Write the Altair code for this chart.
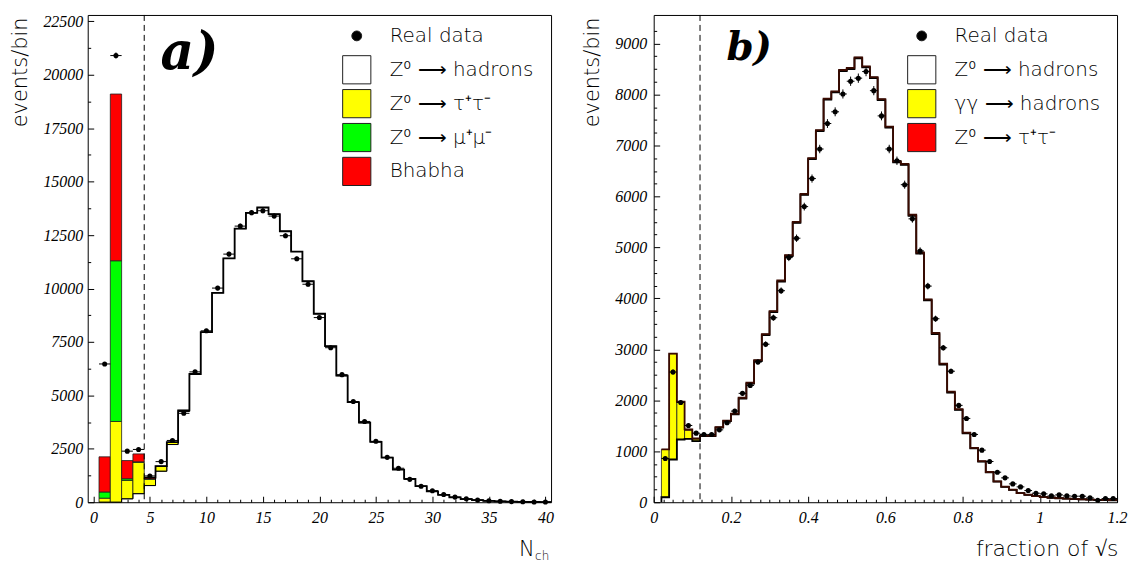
import altair as alt
import pandas as pd

# ---------------- panel a) : charged multiplicity ----------------
a_nch = list(range(1, 41))
a_data = [6470, 20900, 2390, 2470, 1230, 1900, 2890, 4160, 6100, 8020,
          10020, 11610, 12920, 13550, 13640, 13390, 12470, 11390, 10200, 8640,
          7230, 5970, 4710, 3780, 2850, 2100, 1590, 1070, 750, 540,
          360, 240, 160, 105, 70, 45, 30, 20, 12, 8]
a_had = [0, 0, 160, 400, 780, 1450, 2700, 4250, 5980, 7950,
         9800, 11410, 12800, 13540, 13790, 13480, 12680, 11730, 10340, 8820,
         7300, 5920, 4680, 3720, 2820, 2090, 1530, 1090, 750, 510,
         345, 230, 150, 100, 65, 42, 27, 17, 11, 7]
a_tau = [190, 3780, 860, 1470, 300, 240, 110, 50, 20, 10] + [0] * 30
a_mu = [290, 7520, 80, 20, 10] + [0] * 35
a_bha = [1645, 7800, 850, 370, 60] + [0] * 35
a_cut = [4.5]
a_labels = ["Real data", "Z⁰ ⟶ hadrons", "Z⁰ ⟶ τ⁺τ⁻", "Z⁰ ⟶ μ⁺μ⁻", "Bhabha"]
a_colors = ["black", "white", "#ffff00", "#00ff00", "#ff0000"]
a_xmajor = [0, 5, 10, 15, 20, 25, 30, 35, 40]
a_xminor = [v for v in range(0, 41) if v % 5]
a_ymajor = [0, 2500, 5000, 7500, 10000, 12500, 15000, 17500, 20000, 22500]
a_yminor = [1250, 3750, 6250, 8750, 11250, 13750, 16250, 18750, 21250]

# ---------------- panel b) : visible energy ----------------
b_lo = [0.02, 0.04, 0.06, 0.08, 0.10, 0.12, 0.14, 0.16, 0.18, 0.20,
        0.22, 0.24, 0.26, 0.28, 0.30, 0.32, 0.34, 0.36, 0.38, 0.40,
        0.42, 0.44, 0.46, 0.48, 0.50, 0.52, 0.54, 0.56, 0.58, 0.60,
        0.62, 0.64, 0.66, 0.68, 0.70, 0.72, 0.74, 0.76, 0.78, 0.80,
        0.82, 0.84, 0.86, 0.88, 0.90, 0.92, 0.94, 0.96, 0.98, 1.00,
        1.02, 1.04, 1.06, 1.08, 1.10, 1.12, 1.14, 1.16, 1.18]
b_data = [858, 2554, 1958, 1506, 1355, 1330, 1330, 1420, 1558, 1788,
          2136, 2292, 2750, 3100, 3620, 4150, 4800, 5180, 5800, 6350,
          6930, 7430, 7660, 8010, 8260, 8320, 8450, 8075, 7580, 6930,
          6700, 6230, 5560, 4930, 4240, 3600, 3030, 2570, 1900, 1644,
          1330, 1022, 799, 589, 478, 360, 301, 229, 177, 164,
          124, 144, 124, 118, 118, 85, 39, 72, 72]
b_had = [98, 838, 1231, 1244, 1198, 1295, 1295, 1465, 1590, 1725,
         2035, 2325, 2770, 3280, 3730, 4330, 4830, 5480, 6030, 6730,
         7280, 7900, 8040, 8460, 8500, 8710, 8530, 8320, 7890, 7350,
         6670, 6620, 5620, 4880, 3960, 3300, 2700, 2150, 1810, 1350,
         1055, 795, 585, 405, 300, 242, 177, 145, 120, 100,
         88, 78, 70, 63, 57, 52, 47, 43, 39]
b_gg = [937, 2076, 730, 170, 45] + [0] * 54
b_tau = [0, 0, 10, 16, 7, 10, 10, 10, 10, 12,
         15, 19, 20, 20, 20, 20, 20, 20, 20, 20,
         20, 20, 20, 20, 20, 20, 20, 20, 20, 20,
         20, 20, 20, 20, 20, 20, 20, 18, 16, 14,
         12, 10, 8, 6, 5, 4, 3, 3, 2, 2,
         2, 2, 2, 1, 1, 1, 1, 1, 1]
b_cut = [0.12]
b_labels = ["Real data", "Z⁰ ⟶ hadrons", "γγ ⟶ hadrons", "Z⁰ ⟶ τ⁺τ⁻"]
b_colors = ["black", "white", "#ffff00", "#ff0000"]
b_xmajor = [0, 0.2, 0.4, 0.6, 0.8, 1.0, 1.2]
b_xminor = [round(0.025 * k, 3) for k in range(0, 49) if k % 8]
b_ymajor = [0, 1000, 2000, 3000, 4000, 5000, 6000, 7000, 8000, 9000]
b_yminor = [250 * k for k in range(1, 38) if k % 4]

W, H = 465, 489
TICK, MTICK = 6, 3
LBL_FONT = "Liberation Serif"
TXT_FONT = "DejaVu Sans"
TXT_WEIGHT = 200
# filled dot for "Real data"; the two zero-length segments only widen the symbol box
DOT = ("M0,-0.35A0.35,0.35,0,1,1,0,0.35A0.35,0.35,0,1,1,0,-0.35Z"
       "M-1,-1L-1,-1M1,1L1,1")


def stack_rects(lo, hi, comps, colors):
    rows = []
    for i in range(len(lo)):
        base = 0
        for vals, col in zip(comps, colors):
            v = vals[i]
            if col is not None and v > 0:
                rows.append(dict(x=lo[i], x2=hi[i], y=base, y2=base + v, fill=col))
            base += v
    return pd.DataFrame(rows)


def steps(lo, hi, vals, start_zero=False):
    rows = []
    if start_zero:
        rows.append(dict(x=lo[0], y=0))
    for i in range(len(lo)):
        rows.append(dict(x=lo[i], y=vals[i]))
        rows.append(dict(x=hi[i], y=vals[i]))
    df = pd.DataFrame(rows)
    df["o"] = range(len(df))
    return df


def major_axis(orient, values, fmt, pad, title=None, tsize=21, **kw):
    return alt.Axis(orient=orient, values=values, format=fmt, offset=-TICK, tickSize=TICK,
                    domain=False, grid=False, tickColor="black", tickWidth=1,
                    labelFont=LBL_FONT, labelFontStyle="italic", labelFontSize=16,
                    labelColor="black", labelPadding=pad, labelFlush=False,
                    labelOverlap=False, labelBound=False, title=title,
                    titleFont=TXT_FONT, titleFontSize=tsize, titleFontWeight=TXT_WEIGHT,
                    titleColor="black", **kw)


def minor_axis(orient, values):
    return alt.Axis(orient=orient, values=values, offset=-MTICK, tickSize=MTICK,
                    domain=False, grid=False, labels=False, title=None,
                    tickColor="black", tickWidth=1)


def legend(x, y):
    return alt.Legend(orient="none", legendX=x, legendY=y, title=None, direction="vertical",
                      labelFont=TXT_FONT, labelFontSize=20, labelFontWeight=TXT_WEIGHT,
                      labelColor="black",
                      symbolSize=800, symbolStrokeColor="black", symbolStrokeWidth=1,
                      rowPadding=0, labelOffset=18, padding=0)


def panel(lo, hi, data, comps, colors, line_total_from, cut, labels, lcolors,
          xdom, ydom, xmaj, xmin, ymaj, ymin, xfmt, ytitle_x, xtitle, xtitle_x, xtitle_size,
          tag, tag_size, tag_x, tag_y, leg_x, extra_text=None, total_color="black",
          tau_on_top=False):
    xs = alt.Scale(domain=xdom, nice=False, zero=False)
    ys = alt.Scale(domain=ydom, nice=False)

    rects = stack_rects(lo, hi, comps, colors)
    had = comps[0]
    tot = [sum(c[i] for c in comps) for i in range(len(lo))]
    k = line_total_from
    had_df = steps(lo, hi, had, start_zero=True)
    tot_df = steps(lo[k:], hi[k:], tot[k:])
    pts = pd.DataFrame({"lo": lo, "hi": hi, "c": [(a + b) / 2 for a, b in zip(lo, hi)], "v": data})

    yax = major_axis("left", ymaj, "d", 5 if ydom[1] > 10000 else 7, title="events/bin",
                     titleX=ytitle_x, titleY=2, titleAlign="right", titleAngle=270,
                     titleBaseline="alphabetic")
    xax = major_axis("bottom", xmaj, xfmt, 7, title=xtitle, tsize=xtitle_size,
                     titleX=xtitle_x, titleY=59,
                     titleAlign="right", titleBaseline="alphabetic", titleAngle=0)

    bars = alt.Chart(rects).mark_rect(stroke="#202020", strokeWidth=0.8).encode(
        x=alt.X("x:Q", scale=xs, axis=xax), x2="x2:Q",
        y=alt.Y("y:Q", scale=ys, axis=yax), y2="y2:Q",
        color=alt.Color("fill:N", scale=None))
    had_line = alt.Chart(had_df).mark_line(color="black", strokeWidth=1.8 if tau_on_top else 1).encode(
        x=alt.X("x:Q", scale=xs, axis=None), y=alt.Y("y:Q", scale=ys, axis=None), order="o:Q")
    tot_line = alt.Chart(tot_df).mark_line(color=total_color, strokeWidth=1.8).encode(
        x=alt.X("x:Q", scale=xs, axis=None), y=alt.Y("y:Q", scale=ys, axis=None), order="o:Q")
    cut_rule = alt.Chart(pd.DataFrame({"c": cut})).mark_rule(
        color="black", strokeWidth=1, strokeDash=[6, 4]).encode(
        x=alt.X("c:Q", scale=xs, axis=minor_axis("bottom", xmin)))
    herr = alt.Chart(pts).mark_rule(color="black", strokeWidth=1).encode(
        x=alt.X("lo:Q", scale=xs, axis=None), x2="hi:Q",
        y=alt.Y("v:Q", scale=ys, axis=minor_axis("left", ymin)))
    verr = alt.Chart(pts).transform_calculate(
        e1="datum.v - sqrt(datum.v)", e2="datum.v + sqrt(datum.v)").mark_rule(
        color="black", strokeWidth=1).encode(
        x=alt.X("c:Q", scale=xs, axis=None),
        y=alt.Y("e1:Q", scale=ys, axis=None), y2="e2:Q")
    dots = alt.Chart(pts).mark_circle(size=26, color="black", opacity=1).encode(
        x=alt.X("c:Q", scale=xs, axis=None), y=alt.Y("v:Q", scale=ys, axis=None))
    tag_t = alt.Chart(pd.DataFrame({"t": [tag]})).mark_text(
        font="DejaVu Serif", fontSize=tag_size, fontWeight="bold", fontStyle="italic",
        align="left", baseline="alphabetic", color="black").encode(
        text="t:N", x=alt.value(tag_x), y=alt.value(tag_y))
    shapes = [DOT] + ["square"] * (len(labels) - 1)
    leg_df = pd.DataFrame({"lab": labels, "px": [None] * len(labels), "py": [None] * len(labels)})
    leg = alt.Chart(leg_df).mark_point(filled=True, opacity=1).encode(
        x=alt.X("px:Q", scale=xs, axis=None), y=alt.Y("py:Q", scale=ys, axis=None),
        color=alt.Color("lab:N", scale=alt.Scale(domain=labels, range=lcolors), legend=legend(leg_x, 6)),
        shape=alt.Shape("lab:N", scale=alt.Scale(domain=labels, range=shapes), legend=legend(leg_x, 6)))

    layers = [bars, had_line, tot_line, cut_rule, herr, verr, dots, tag_t, leg]
    if extra_text is not None:
        layers.append(extra_text)
    return alt.layer(*layers).resolve_axis(x="independent", y="independent").properties(width=W, height=H)


a_lo = [n - 0.5 for n in a_nch]
a_hi = [n + 0.5 for n in a_nch]
sub_ch = alt.Chart(pd.DataFrame({"t": ["ch"]})).mark_text(
    font=TXT_FONT, fontSize=12, fontWeight=TXT_WEIGHT, align="left", baseline="alphabetic",
    color="black").encode(text="t:N", x=alt.value(W - 16), y=alt.value(H + 58))

panel_a = panel(a_lo, a_hi, a_data, [a_had, a_tau, a_mu, a_bha], [None, "#ffff00", "#00ff00", "#ff0000"],
                4, a_cut, a_labels, a_colors, [-0.5, 40.5], [0, 22800],
                a_xmajor, a_xminor, a_ymajor, a_yminor, "d", -67, "N", W - 17, 21,
                "a)", 52, 73, 54, 255, extra_text=sub_ch)

b_hi = [round(v + 0.02, 2) for v in b_lo]
panel_b = panel(b_lo, b_hi, b_data, [b_had, b_gg, b_tau], [None, "#ffff00", "#ff0000"],
                0, b_cut, b_labels, b_colors, [0, 1.2], [0, 9560],
                b_xmajor, b_xminor, b_ymajor, b_yminor, "~g", -61, "fraction of √s", W + 1, 22,
                "b)", 39, 73, 45, 254, total_color="#3a0a00", tau_on_top=True)

chart = alt.hconcat(panel_a, panel_b, spacing=103, bounds="flush").resolve_scale(
    color="independent", shape="independent").properties(
    padding={"left": 1, "top": 3, "right": 0, "bottom": 0}, background="white").configure_view(
    stroke="black", strokeWidth=1)

chart.save("out.html", embed_options={"renderer": "svg", "actions": False})
